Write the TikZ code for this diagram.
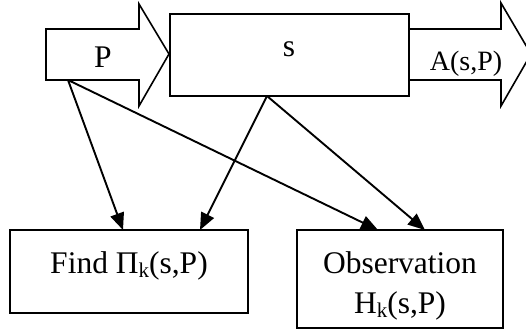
\documentclass[tikz,border=0pt]{standalone}
\usepackage{fontspec}
\setmainfont{Liberation Serif}
\usetikzlibrary{arrows.meta}
\newcommand{\subk}{\raisebox{-0.13em}{\fontsize{10.5}{12}\selectfont k}}
\begin{document}
\begin{tikzpicture}[x=0.5pt,y=-0.5pt,
  outline/.style={draw, line width=0.8pt, line join=miter},
  conn/.style={-{Triangle[length=8.5pt,width=7pt]}, line width=0.95pt},
  lbl/.style={font=\fontsize{15.75}{19}\selectfont, inner sep=0, anchor=base},
  slbl/.style={font=\fontsize{14}{17}\selectfont, inner sep=0, anchor=base}]
\useasboundingbox (0,0) rectangle (526,333);
% P input arrow
\draw[outline] (46,29) -- (139,29) -- (139,4) -- (169,54) -- (139,106) -- (139,80) -- (46,80) -- cycle;
\node[lbl] (Plbl) at (103,67) {P};
\coordinate (Pc) at (68,80);
% s box
\draw[outline] (170,14) rectangle (409,96);
\node[lbl] (Slbl) at (289,56) {s};
\coordinate (Sc) at (267,96);
% A output arrow
\draw[outline] (409,29) -- (501,29) -- (501,3) -- (531,54) -- (501,106) -- (501,80) -- (409,80);
\node[slbl] (Albl) at (466,70) {A(s,P)};
% bottom boxes
\draw[outline] (10,230) rectangle (248,313);
\node[lbl] (Find) at (129,273) {Find Π\subk(s,P)};
\draw[outline] (297,230) rectangle (503,328);
\node[lbl] (Obs1) at (400,273) {Observation};
\node[lbl] (Obs2) at (400,313) {H\subk(s,P)};
\coordinate (F1) at (123,230);
\coordinate (F2) at (200,230);
\coordinate (O1) at (378,230);
\coordinate (O2) at (425,230);
% connectors
\draw[conn] (Pc) -- (F1);
\draw[conn] (Pc) -- (O1);
\draw[conn] (Sc) -- (F2);
\draw[conn] (Sc) -- (O2);
\end{tikzpicture}
\end{document}
